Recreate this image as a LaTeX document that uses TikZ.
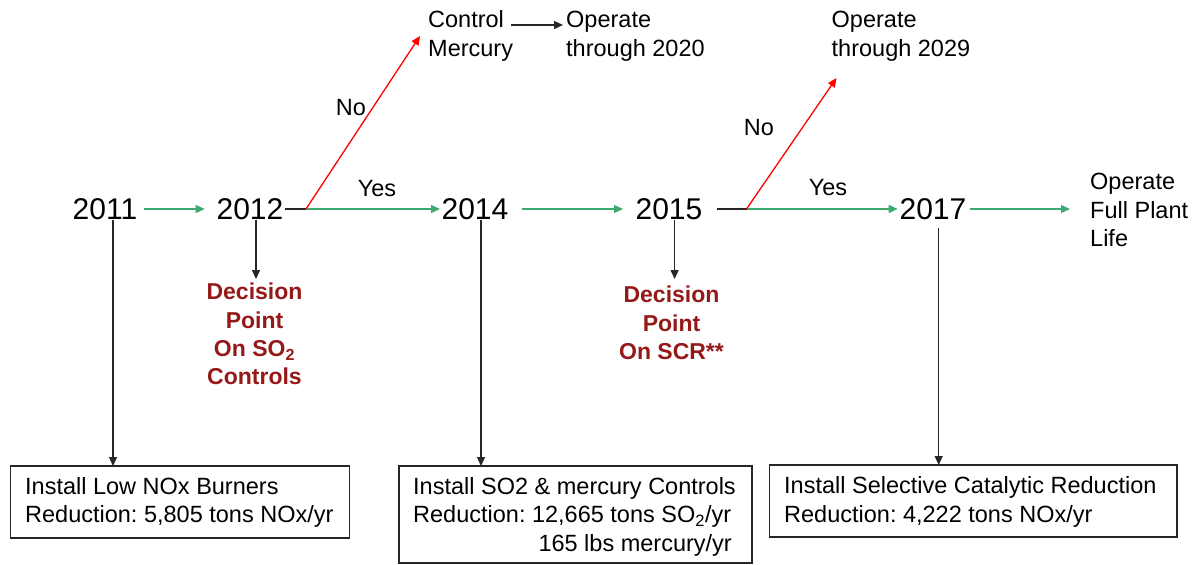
\documentclass[tikz,border=0pt]{standalone}
\usepackage{fontspec}
\setmainfont{Liberation Sans}
\usetikzlibrary{arrows.meta}
\definecolor{grn}{RGB}{60,170,110}
\definecolor{dred}{RGB}{150,25,25}
\frenchspacing
\tikzset{
  year/.style={font=\fontsize{30}{32}\selectfont, inner sep=0pt, text depth=0pt},
  txt/.style={font=\fontsize{23.5}{28.5}\selectfont, inner sep=0pt, align=left},
  dec/.style={font=\fontsize{23}{28.3}\selectfont\bfseries, text=dred, inner sep=0pt, align=center},
  tip/.style={-{Triangle[length=9pt,width=8pt]}},
  gar/.style={draw=grn, line width=1.3pt, tip},
  rar/.style={draw=red, line width=1.3pt, tip},
  bar/.style={draw=black!85, line width=1.3pt, tip},
  bln/.style={draw=black!85, line width=1.3pt},
  box/.style={draw=black!85, line width=1.5pt}
}
\begin{document}
\begin{tikzpicture}[x=1pt,y=-1pt]
\useasboundingbox (0,0) rectangle (1203,565);
% years
\node[year] (y11) at (105,209) {2011};
\node[year] (y12) at (250,209) {2012};
\node[year] (y14) at (475,209) {2014};
\node[year] (y15) at (669,209) {2015};
\node[year] (y17) at (933,209) {2017};
% branch points
\coordinate (b12) at (306,209);
\coordinate (b15) at (746.5,209);
% top texts
\node[txt, anchor=west] (cm) at (428,36) {Control\\Mercury};
\node[txt, anchor=west] (op20) at (566,36) {Operate\\through 2020};
\node[txt, anchor=west] (op29) at (831.5,36) {Operate\\through 2029};
\node[txt, anchor=west] (opf) at (1090,210) {Operate\\Full Plant\\Life};
% decision texts
\node[dec, anchor=north] (d12) at (254.5,283) {Decision\\Point\\On SO\textsubscript{2}\\Controls};
\node[dec, anchor=north] (d15) at (671.5,286) {Decision\\Point\\On SCR**};
% boxes
\draw[box] (10.7,466) rectangle (349.4,538);
\node[txt, anchor=west] (t1) at (25,502.5) {Install Low NOx Burners\\Reduction: 5,805 tons NOx/yr};
\coordinate (box1) at (113,466);
\draw[box] (399,466) rectangle (752,563);
\node[txt, anchor=west] (t2) at (413,502.5) {Install SO2 \& mercury Controls\\Reduction: 12,665 tons SO\textsubscript{2}/yr};
\node[txt, anchor=east] (t2b) at (732,545.5) {165 lbs mercury/yr};
\coordinate (box2) at (481,466);
\draw[box] (769.5,465) rectangle (1177,537);
\node[txt, anchor=west] (t3) at (784,502) {Install Selective Catalytic Reduction\\Reduction: 4,222 tons NOx/yr};
\coordinate (box3) at (938.7,465);
% horizontal flow
\draw[gar] (143.5,209) -- (204.7,209);
\draw[bln] (285,209) -- (b12);
\draw[gar] (b12) -- (440,209);
\draw[gar] (522,209) -- (623,209);
\draw[bln] (716.7,209) -- (b15);
\draw[gar] (b15) -- (897.7,209);
\draw[gar] (970,209) -- (1070,209);
% red branches
\draw[rar] (b12) -- (420,36);
\draw[rar] (b15) -- (836.5,78);
\draw[bar] (511,25) -- (563,25);
% labels
\node[txt] (no1) at (351,108) {No};
\node[txt] (yes1) at (377,189) {Yes};
\node[txt] (no2) at (759,128) {No};
\node[txt] (yes2) at (828,188) {Yes};
% verticals
\draw[bar] (113,220) -- (box1);
\draw[bar] (256,220) -- (256,279);
\draw[bar] (481,220) -- (box2);
\draw[bar] (674.6,220) -- (674.6,279);
\draw[bar] (938.7,228) -- (box3);
\end{tikzpicture}
\end{document}
